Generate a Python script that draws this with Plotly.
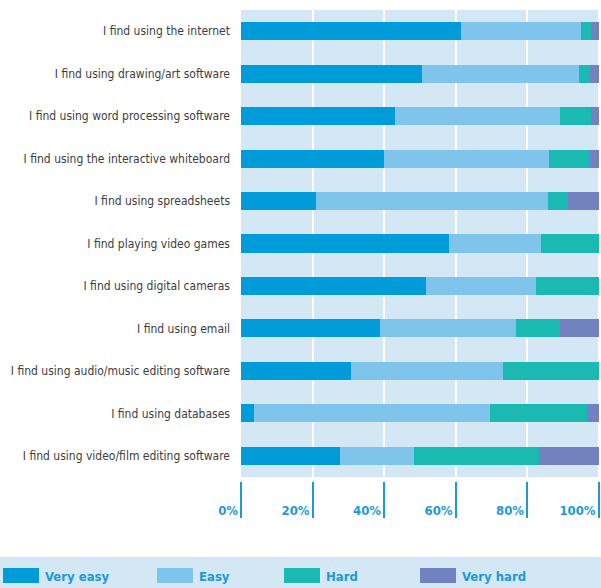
import plotly.graph_objects as go

statements = [
    "I find using the internet",
    "I find using drawing/art software",
    "I find using word processing software",
    "I find using the interactive whiteboard",
    "I find using spreadsheets",
    "I find playing video games",
    "I find using digital cameras",
    "I find using email",
    "I find using audio/music editing software",
    "I find using databases",
    "I find using video/film editing software",
]
very_easy = [61.5, 50.5, 43.0, 39.9, 21.1, 58.1, 51.7, 38.8, 30.9, 3.7, 27.6]
easy = [33.6, 44.1, 46.3, 46.3, 64.8, 25.8, 30.8, 38.1, 42.4, 65.9, 20.7]
hard = [2.9, 3.1, 8.7, 11.5, 5.6, 16.1, 17.5, 12.3, 26.7, 27.2, 35.1]
very_hard = [2.0, 2.3, 2.0, 2.3, 8.5, 0.0, 0.0, 10.8, 0.0, 3.2, 16.6]
x_ticks = [0, 20, 40, 60, 80, 100]

series = [
    ("Very easy", very_easy, "#009bd9"),
    ("Easy", easy, "#7fc4eb"),
    ("Hard", hard, "#1ab9b1"),
    ("Very hard", very_hard, "#7281c0"),
]

W, H = 601, 588
L, R, T, B = 241, 1, 10, 107
PW, PH = W - L - R, H - T - B
BG = "#d3e7f5"
BLUE_TXT = "#1b9ad7"
COND = "Liberation Sans Narrow, DejaVu Sans Condensed, Arial Narrow, sans-serif"


def px(x):
    return (x - L) / PW


def py(y):
    return (H - B - y) / PH


fig = go.Figure()
for name, vals, color in series:
    fig.add_trace(go.Bar(
        y=statements, x=vals, name=name, orientation="h",
        marker=dict(color=color, line_width=0), showlegend=False,
        hovertemplate="%{y}: %{x}%<extra>" + name + "</extra>",
    ))

# legend band drawn by hand (wide swatches)
shapes = [dict(type="rect", xref="paper", yref="paper", x0=px(0), x1=px(W),
               y0=py(H), y1=py(557), fillcolor=BG, line_width=0, layer="below")]
annotations = []
for (name, _, color), lx in zip(series, [3, 157, 284, 420]):
    shapes.append(dict(type="rect", xref="paper", yref="paper", x0=px(lx), x1=px(lx + 36),
                       y0=py(583), y1=py(568), fillcolor=color, line_width=0))
    annotations.append(dict(xref="paper", yref="paper", x=px(lx + 40), y=py(576),
                            text="<b>" + name + "</b>", showarrow=False, xanchor="left",
                            yanchor="middle", font=dict(family=COND, size=13, color=BLUE_TXT)))

fig.update_layout(
    width=W, height=H,
    margin=dict(l=L, r=R, t=T, b=B, autoexpand=False),
    paper_bgcolor="white",
    plot_bgcolor=BG,
    barmode="stack",
    bargap=0.575,
    shapes=shapes,
    annotations=annotations,
    xaxis=dict(
        range=[0, 100.4], tickvals=x_ticks, ticktext=[f"{v}%" for v in x_ticks],
        anchor="free", position=0, automargin=False,
        showgrid=True, gridcolor="white", gridwidth=2,
        zeroline=False, showline=False,
        ticks="outside", ticklen=36, tickwidth=2, tickcolor=BLUE_TXT,
        ticklabelposition="outside left", ticklabelstandoff=17, ticklabelshift=-2,
        tickfont=dict(family=COND, size=13, color=BLUE_TXT, weight="bold"),
        fixedrange=True,
    ),
    yaxis=dict(
        domain=[4 / PH, 1], automargin=False,
        categoryorder="array", categoryarray=statements, autorange="reversed",
        showgrid=False, zeroline=False, ticks="",
        ticklabelstandoff=10,
        tickfont=dict(family=COND, size=12, color="#3d3d3d"),
        fixedrange=True,
    ),
)

fig.write_html("out.html", config={"displayModeBar": False},
               post_script="document.body.style.margin = '0';")
